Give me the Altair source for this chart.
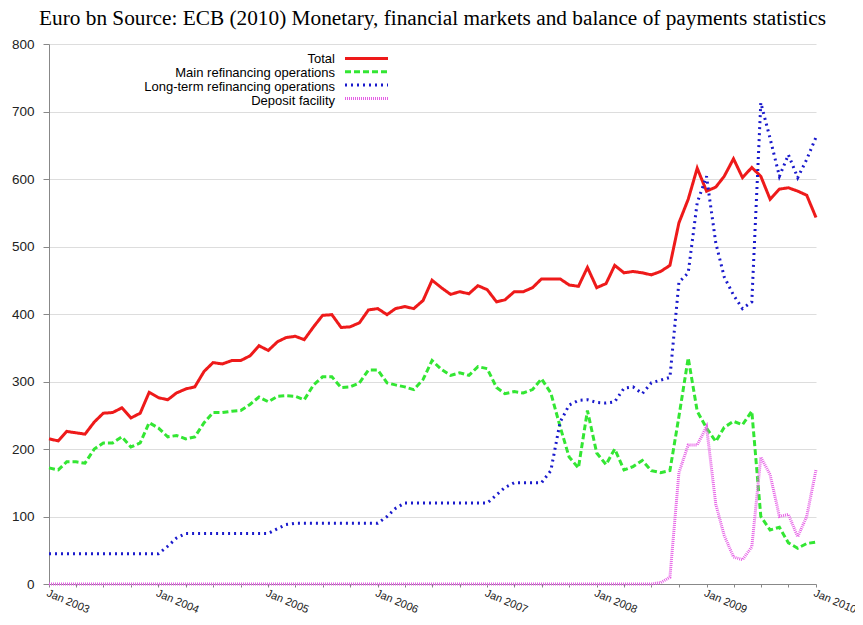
import altair as alt
import pandas as pd

series_names = [
    "Total",
    "Main refinancing operations",
    "Long-term refinancing operations",
    "Deposit facility",
]

# monthly values, Jan 2003 .. Jan 2010 (EUR bn)
total = [
    215, 212, 226, 224, 222, 240, 253, 254, 261, 246, 253, 284,
    276, 273, 283, 289, 292, 315, 328, 326, 331, 331, 338, 353,
    346, 359, 365, 367, 362, 381, 398, 399, 380, 381, 387, 406,
    408, 399, 408, 411, 408, 420, 450, 439, 429, 433, 430, 442,
    436, 418, 421, 433, 433, 439, 452, 452, 452, 443, 441, 469,
    439, 445, 472, 461, 463, 461, 458, 463, 472, 535, 570, 616,
    582, 588, 604, 630, 602, 617, 604, 570, 585, 587, 582, 576,
    543,
]
main_ref = [
    172, 169, 181, 181, 179, 200, 209, 209, 218, 203, 209, 239,
    231, 218, 220, 215, 218, 239, 254, 254, 256, 257, 266, 277,
    270, 278, 279, 278, 273, 295, 307, 307, 291, 292, 298, 317,
    317, 298, 295, 292, 288, 303, 331, 318, 309, 313, 309, 322,
    319, 291, 282, 285, 283, 288, 304, 283, 233, 188, 172, 257,
    194, 177, 200, 169, 174, 183, 168, 165, 168, 248, 335, 256,
    231, 211, 232, 241, 236, 256, 100, 80, 84, 61, 53, 60,
    62,
]
long_term = [
    45, 45, 45, 45, 45, 45, 45, 45, 45, 45, 45, 45,
    45, 56, 68, 75, 75, 75, 75, 75, 75, 75, 75, 75,
    75, 82, 88, 90, 90, 90, 90, 90, 90, 90, 90, 90,
    90, 100, 112, 120, 120, 120, 120, 120, 120, 120, 120, 120,
    120, 132, 143, 150, 150, 150, 150, 168, 240, 265, 272, 273,
    269, 268, 270, 290, 292, 282, 298, 302, 306, 447, 461, 565,
    604, 505, 455, 428, 408, 418, 713, 660, 604, 636, 602, 629,
    662,
]
deposit = [
    0, 0, 0, 0, 0, 0, 0, 0, 0, 0, 0, 0,
    0, 0, 0, 0, 0, 0, 0, 0, 0, 0, 0, 0,
    0, 0, 0, 0, 0, 0, 0, 0, 0, 0, 0, 0,
    0, 0, 0, 0, 0, 0, 0, 0, 0, 0, 0, 0,
    0, 0, 0, 0, 0, 0, 0, 0, 0, 0, 0, 0,
    0, 0, 0, 0, 0, 0, 0, 2, 10, 165, 206, 206,
    233, 118, 72, 40, 36, 55, 188, 162, 100, 103, 70, 100,
    169,
]

months = pd.date_range("2003-01-01", "2010-01-01", freq="MS").strftime("%Y-%m-%d").tolist()

rows = []
for name, vals in zip(series_names, [total, main_ref, long_term, deposit]):
    for d, v in zip(months, vals):
        rows.append({"date": d, "series": name, "label": name, "value": v})
df = pd.DataFrame(rows)

colors = ["#ee1a1a", "#33e633", "#1a1acc", "#e660e6"]
dashes = [[1, 0], [6, 3], [2, 4], [1, 1]]

ROW_CLIP = 13
ROW_PAD = 0.3

# legend with the line samples (labels hidden); the texts come from a second legend
symbol_legend = alt.Legend(
    title=None,
    orient="none",
    legendX=294.5,
    legendY=8,
    direction="vertical",
    padding=0,
    symbolType="stroke",
    symbolSize=1849,
    symbolStrokeWidth=3,
    labelExpr="''",
    clipHeight=ROW_CLIP,
    rowPadding=ROW_PAD,
)
label_legend = alt.Legend(
    title=None,
    orient="none",
    legendX=273,
    legendY=8,
    direction="vertical",
    padding=0,
    symbolType="stroke",
    symbolSize=0,
    symbolStrokeWidth=0,
    symbolOpacity=0,
    labelFont="Liberation Sans",
    labelFontSize=13,
    labelColor="#000000",
    labelAlign="right",
    labelOffset=0,
    labelLimit=400,
    clipHeight=ROW_CLIP,
    rowPadding=ROW_PAD,
)

chart = (
    alt.Chart(df)
    .mark_line(strokeWidth=3)
    .encode(
        x=alt.X(
            "date:T",
            title=None,
            scale=alt.Scale(
                domain=[alt.DateTime(year=2003, month=1, date=1), alt.DateTime(year=2010, month=1, date=1)],
                nice=False,
            ),
            axis=alt.Axis(
                tickCount={"interval": "month", "step": 3},
                labelExpr="month(datum.value) == 0 ? timeFormat(datum.value, '%b %Y') : ''",
                labelAngle=23,
                labelAlign="left",
                labelBaseline="top",
                labelFont="Liberation Sans",
                labelFontSize=11,
                labelColor="#222222",
                labelPadding=0,
                labelOverlap=False,
                grid=False,
                tickSize=3,
                tickColor="#888888",
                domainColor="#888888",
            ),
        ),
        y=alt.Y(
            "value:Q",
            title=None,
            scale=alt.Scale(domain=[0, 800], nice=False),
            axis=alt.Axis(
                values=[0, 100, 200, 300, 400, 500, 600, 700, 800],
                labelFont="Liberation Sans",
                labelFontSize=13.5,
                labelColor="#222222",
                labelPadding=9,
                tickSize=6,
                tickColor="#888888",
                domainColor="#888888",
                gridColor="#dddddd",
            ),
        ),
        color=alt.Color("series:N", scale=alt.Scale(domain=series_names, range=colors), legend=symbol_legend),
        strokeDash=alt.StrokeDash("series:N", scale=alt.Scale(domain=series_names, range=dashes), legend=symbol_legend),
        opacity=alt.Opacity(
            "label:N",
            sort=series_names,
            scale=alt.Scale(type="ordinal", range=[1, 1, 1, 1]),
            legend=label_legend,
        ),
    )
    .properties(
        width=767,
        height=540,
        title=alt.TitleParams(
            "Euro bn Source: ECB (2010) Monetary, financial markets and balance of payments statistics",
            font="Liberation Serif",
            fontSize=21.3,
            fontWeight="normal",
            color="#000000",
            anchor="middle",
            offset=8,
        ),
        autosize=alt.AutoSizeParams(type="none"),
        padding={"left": 41, "top": 36, "right": 39, "bottom": 33},
    )
    .configure_view(stroke="transparent")
)

chart.save("out.html", embed_options={"renderer": "svg", "actions": False})
